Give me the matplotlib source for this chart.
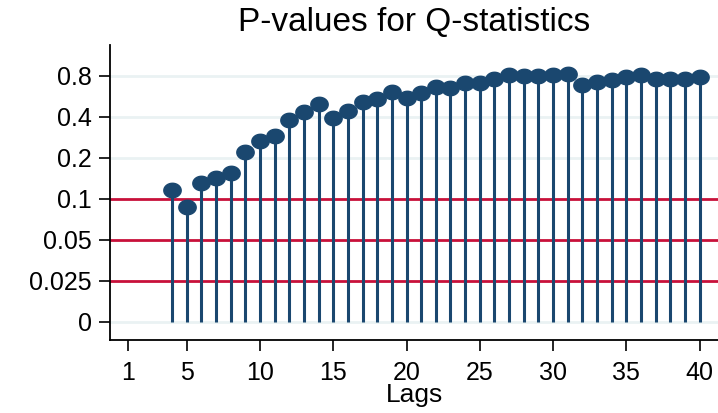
import numpy as np
import matplotlib
matplotlib.use('Agg')
import matplotlib.pyplot as plt
from matplotlib.path import Path

plt.rcParams['font.family'] = ['Liberation Sans', 'DejaVu Sans']

# Ljung-Box p-values by lag
lags = np.arange(4, 41)
pvalues = [0.117, 0.088, 0.130, 0.142, 0.154, 0.223, 0.267, 0.292, 0.380, 0.432,
           0.498, 0.391, 0.443, 0.516, 0.542, 0.610, 0.551, 0.596, 0.662, 0.653,
           0.711, 0.711, 0.764, 0.808, 0.800, 0.800, 0.808, 0.832, 0.691, 0.718,
           0.747, 0.781, 0.808, 0.760, 0.760, 0.760, 0.790]
ytick_vals = [0, 0.025, 0.05, 0.1, 0.2, 0.4, 0.8]
ytick_labels = ['0', '0.025', '0.05', '0.1', '0.2', '0.4', '0.8']
xtick_vals = [1, 5, 10, 15, 20, 25, 30, 35, 40]
ref_levels = [0.025, 0.05, 0.1]
grid_levels = [0, 0.2, 0.4, 0.8]

NAVY = '#1a476f'
RED = '#c8103a'
GRID = '#eaf2f3'


# linear below 0.025, log2 above -> equal spacing between the ticks
def fwd(p):
    p = np.asarray(p, dtype=float)
    lo = p / 0.025
    hi = 1 + np.log2(np.maximum(p, 1e-9) / 0.025)
    return np.where(p < 0.025, lo, hi)


def inv(y):
    y = np.asarray(y, dtype=float)
    return np.where(y < 1, y * 0.025, 0.025 * 2.0 ** (y - 1))


# slightly wide ellipse marker
t = np.linspace(0, 2 * np.pi, 40)
ellipse = Path(np.column_stack([1.2 * np.cos(t), np.sin(t)]), closed=True)

fig = plt.figure(figsize=(7.18, 4.13), dpi=100)
ax = fig.add_axes([110 / 718, 73 / 413, 608 / 718, 295 / 413])
ax.set_yscale('function', functions=(fwd, inv))

for g in grid_levels:
    ax.axhline(g, color=GRID, lw=2, zorder=0)
for r in ref_levels:
    ax.axhline(r, color=RED, lw=2, zorder=1)

ax.vlines(lags, 0, pvalues, color=NAVY, lw=2.2, zorder=2)
ax.plot(lags, pvalues, linestyle='none', marker=ellipse, markersize=12.5,
        color=NAVY, zorder=3)

ax.set_xlim(-0.23, 41.25)
ax.set_ylim(-0.011, 1.35)
ax.set_yticks(ytick_vals)
ax.set_yticklabels(ytick_labels)
ax.minorticks_off()
ax.set_xticks(xtick_vals)

ax.tick_params(axis='both', direction='out', length=8, width=1.2,
               labelsize=18, colors='black')
ax.tick_params(axis='x', pad=7)
ax.tick_params(axis='y', pad=5)
ax.spines['top'].set_visible(False)
ax.spines['right'].set_visible(False)
ax.spines['left'].set_linewidth(1.3)
ax.spines['bottom'].set_linewidth(1.3)

ax.set_xlabel('Lags', fontsize=19, labelpad=-1)
ax.set_title('P-values for Q-statistics', fontsize=24, pad=10)

fig.savefig('out.png', dpi=100)
